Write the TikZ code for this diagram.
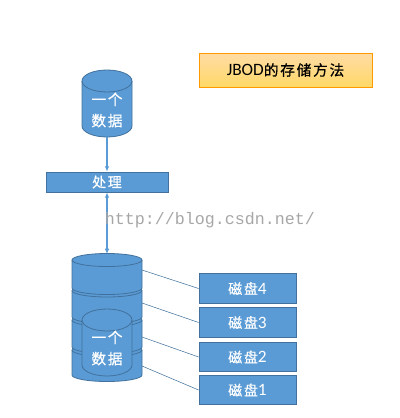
\documentclass[tikz,border=0pt]{standalone}
\usepackage{fontspec}
\setmainfont{Carlito}
\newfontfamily\cjk[LetterSpace=12,FakeBold=0.6]{Noto Sans CJK SC}
\newfontfamily\urlfont{Liberation Mono}
\usetikzlibrary{arrows.meta}
\definecolor{boxblue}{HTML}{5B9BD5}
\definecolor{edgeblue}{HTML}{41719C}
\newcommand{\digit}[1]{{\fontspec{Carlito}\fontsize{13}{14}\selectfont #1}}

\begin{document}
\begin{tikzpicture}[x=0.75pt,y=-0.75pt,
    cantext/.style={inner sep=0pt, text=white, align=center, font=\cjk\fontsize{11}{16}\selectfont},
    disk/.style={draw=edgeblue, fill=boxblue, line width=0.6pt},
    databox/.style={draw=edgeblue, fill=boxblue, line width=0.6pt, inner sep=0pt, text=white,
      font=\cjk\fontsize{10.5}{12}\selectfont},
    diskbox/.style={databox, minimum width=72.75pt, minimum height=22pt},
    link/.style={draw=boxblue, line width=0.8pt}]
  \useasboundingbox (0,0) rectangle (400,418);
  % title
  \node[draw=orange!80!yellow, top color=yellow!20!orange!35, bottom color=orange!50!yellow!60,
    minimum width=129.75pt, minimum height=25.5pt, inner sep=0pt,
    font=\fontsize{13}{14}\selectfont] (title) at (285.5,70) {JBOD{\cjk\fontsize{11}{14}\selectfont 的存储方法}};
  % data and process
  \draw[disk] (82,81) -- (82,126) arc (180:0:25 and 11) -- (132,81) arc (0:-180:25 and 11) -- cycle;
  \draw[edgeblue, line width=0.6pt] (82,81) arc (180:0:25 and 11);
  \node[cantext] (data) at (107,110) {一个\\数据};
  \coordinate (datafoot) at (107,137);
  \node[databox, minimum width=91.5pt, minimum height=15pt] (proc) at (107,182) {处理};
  \draw[link, -{Latex[length=4pt,width=3.5pt]}] (datafoot) -- (proc);
  % disks, lowest first
  \foreach \ytop/\ybot in {350/375, 320/347, 290.5/317, 260/288} {
    \draw[disk] (72,\ytop) -- (72,\ybot) arc (180:0:35 and 6.5) -- (142,\ytop) arc (0:-180:35 and 6.5) -- cycle;
    \draw[edgeblue, line width=0.6pt] (72,\ytop) arc (180:0:35 and 6.5);
  }
  \coordinate (d4) at (142,270);
  \coordinate (d3) at (142,303);
  \coordinate (d2) at (142,337);
  \coordinate (d1) at (142,366);
  \coordinate (stack) at (107,254);
  \draw[disk] (82,320) -- (82,365) arc (180:0:25 and 11) -- (132,320) arc (0:-180:25 and 11) -- cycle;
  \draw[edgeblue, line width=0.6pt] (82,320) arc (180:0:25 and 11);
  \node[cantext] (file) at (107,348) {一个\\数据};
  \node[diskbox] (b4) at (247.5,288.5) {磁盘\digit{4}};
  \node[diskbox] (b3) at (247.5,322.5) {磁盘\digit{3}};
  \node[diskbox] (b2) at (247.5,357) {磁盘\digit{2}};
  \node[diskbox] (b1) at (247.5,390) {磁盘\digit{1}};
  \draw[edgeblue] (d4) -- (b4.west);
  \draw[edgeblue] (d3) -- (b3.west);
  \draw[edgeblue] (d2) -- (b2.west);
  \draw[edgeblue] (d1) -- (b1.west);
  \draw[link, line width=1.1pt, {Latex[length=4pt,width=3.5pt]}-{Latex[length=4pt,width=3.5pt]}] (proc) -- (stack);
  % watermark
  \node[text=gray!70, font=\urlfont\fontsize{12.5}{14}\selectfont, inner sep=0pt] (mark) at (210,220.5) {http://blog.csdn.net/};
\end{tikzpicture}
\end{document}
